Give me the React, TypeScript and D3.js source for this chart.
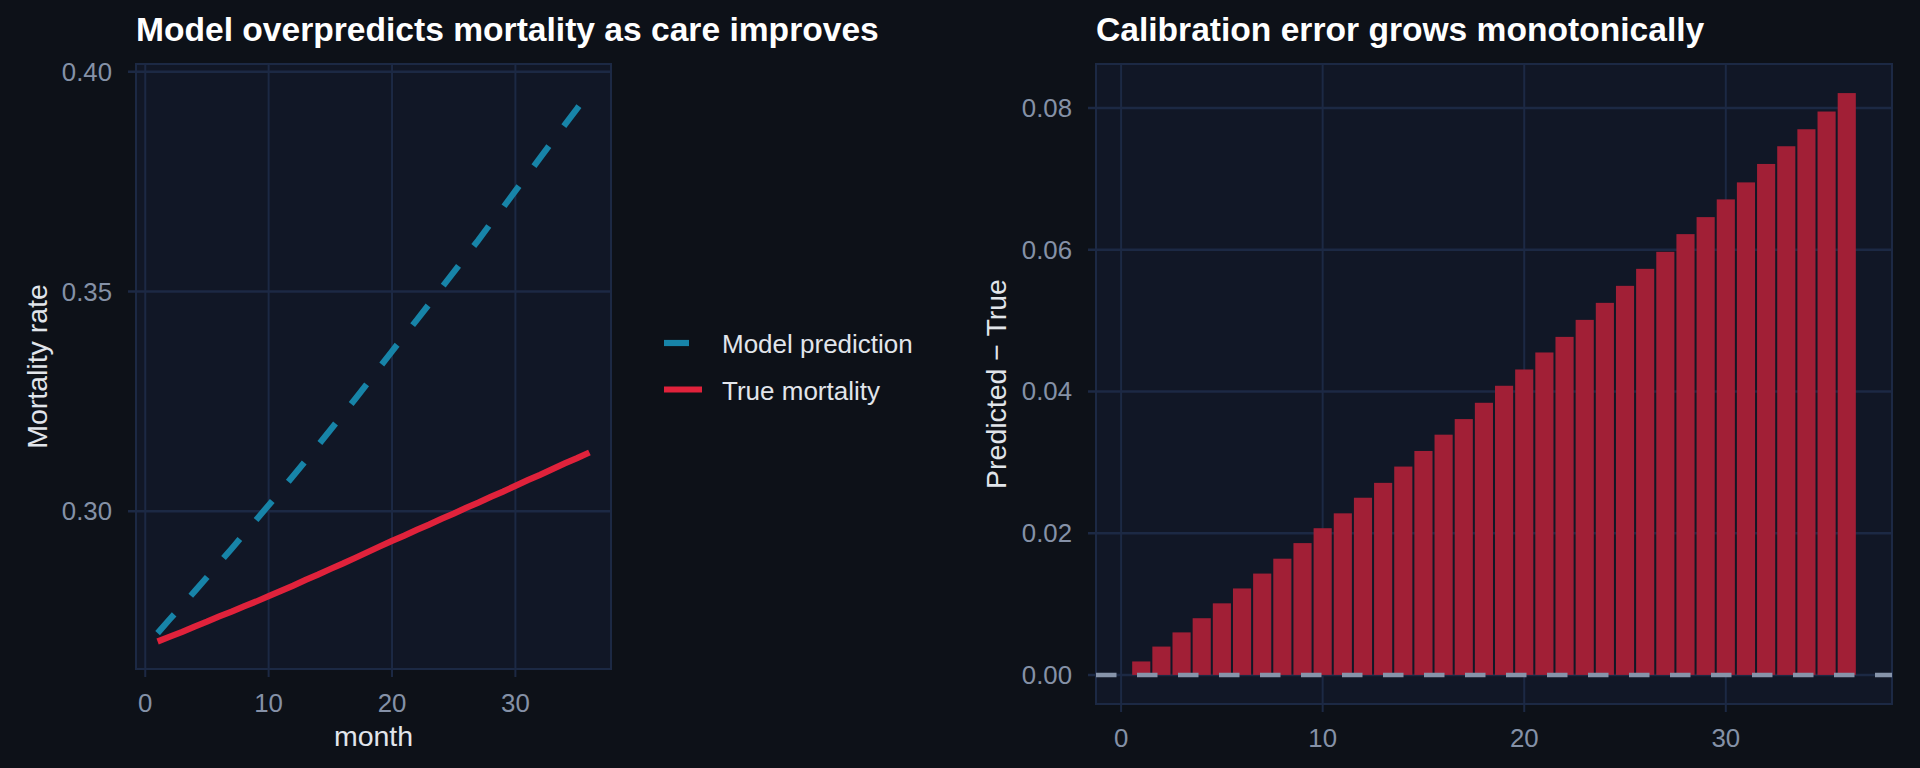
import React from 'react';
import * as d3 from 'd3';

// month index 1..36
const months: number[] = Array.from({ length: 36 }, (_, i) => i + 1);

// true mortality rate per month
const trueMortality: number[] = [
  0.2704, 0.2715, 0.2726, 0.2738, 0.2749, 0.2761, 0.2772, 0.2784, 0.2795, 0.2807,
  0.2819, 0.2831, 0.2844, 0.2856, 0.2869, 0.2881, 0.2894, 0.2907, 0.2920, 0.2933,
  0.2945, 0.2958, 0.2970, 0.2983, 0.2995, 0.3008, 0.3020, 0.3033, 0.3045, 0.3058,
  0.3071, 0.3083, 0.3096, 0.3109, 0.3121, 0.3134,
];

// predicted - true
const calibrationError: number[] = [
  0.0019, 0.0040, 0.0060, 0.0080, 0.0101, 0.0122, 0.0143, 0.0164, 0.0186, 0.0207,
  0.0228, 0.0250, 0.0271, 0.0294, 0.0316, 0.0339, 0.0361, 0.0384, 0.0408, 0.0431,
  0.0455, 0.0477, 0.0501, 0.0525, 0.0549, 0.0573, 0.0597, 0.0622, 0.0646, 0.0671,
  0.0695, 0.0721, 0.0746, 0.0770, 0.0795, 0.0821,
];

const modelPrediction: number[] = trueMortality.map((v, i) => v + calibrationError[i]);

const seriesNames = ['Model prediction', 'True mortality'];
const monthTicks = [0, 10, 20, 30];
const rateTicks = [0.3, 0.35, 0.4];
const errorTicks = [0, 0.02, 0.04, 0.06, 0.08];

const W = 1920;
const H = 768;
const FONT = "'Liberation Sans', Arial, Helvetica, sans-serif";

const BG = '#0d1118';
const PANEL = '#111726';
const GRID = '#1c2944';
const TICK_TXT = '#8591a7';
const AXIS_TXT = '#e1e5eb';
const BLUE = '#1784a8';
const RED = '#e0223b';
const BAR = '#a11f36';
const ZERO = '#8794aa';

const TITLE_SIZE = 33.6;
const AXIS_TITLE_SIZE = 28.5;
const TICK_SIZE = 25.8;
const LEGEND_SIZE = 26;

// expand like ggplot: 5% each side
const expand = (lo: number, hi: number): [number, number] => {
  const p = (hi - lo) * 0.05;
  return [lo - p, hi + p];
};

const App: React.FC = () => {
  // ---- left panel
  const L = { left: 136, right: 611, top: 64, bottom: 669 };
  const xL = d3.scaleLinear().domain(expand(1, 36)).range([L.left, L.right]);
  const allRates = [...trueMortality, ...modelPrediction];
  const yL = d3
    .scaleLinear()
    .domain(expand(d3.min(allRates) || 0, d3.max(allRates) || 1))
    .range([L.bottom, L.top]);

  const line = d3
    .line<number>()
    .x((_, i) => xL(months[i]))
    .y((d) => yL(d));

  // ---- right panel
  const R = { left: 1096, right: 1892, top: 64, bottom: 704 };
  const barW = 0.9;
  const xR = d3
    .scaleLinear()
    .domain(expand(1 - barW / 2, 36 + barW / 2))
    .range([R.left, R.right]);
  const yR = d3
    .scaleLinear()
    .domain(expand(0, d3.max(calibrationError) || 1))
    .range([R.bottom, R.top]);

  const tickLen = 8;

  return (
    <div style={{ position: 'fixed', left: 0, top: 0, width: W, height: H }}>
      <svg width={W} height={H} style={{ display: 'block', fontFamily: FONT }}>
        <rect x={0} y={0} width={W} height={H} fill={BG} />

        {/* ========== LEFT: lines ========== */}
        <text x={L.left} y={40.5} fill="#ffffff" fontSize={TITLE_SIZE} fontWeight="bold">
          Model overpredicts mortality as care improves
        </text>
        <rect x={L.left} y={L.top} width={L.right - L.left} height={L.bottom - L.top} fill={PANEL} stroke={GRID} strokeWidth={2} />
        {monthTicks.map((t) => (
          <g key={'lx' + t}>
            <line x1={xL(t)} x2={xL(t)} y1={L.top} y2={L.bottom + tickLen} stroke={GRID} strokeWidth={2} />
            <text x={xL(t)} y={712} fill={TICK_TXT} fontSize={TICK_SIZE} textAnchor="middle">{t}</text>
          </g>
        ))}
        {rateTicks.map((t) => (
          <g key={'ly' + t}>
            <line x1={L.left - tickLen} x2={L.right} y1={yL(t)} y2={yL(t)} stroke={GRID} strokeWidth={2.5} />
            <text x={112} y={yL(t)} fill={TICK_TXT} fontSize={TICK_SIZE} textAnchor="end" dominantBaseline="central">
              {d3.format('.2f')(t)}
            </text>
          </g>
        ))}
        <path d={line(modelPrediction) || ''} fill="none" stroke={BLUE} strokeWidth={6.2} strokeDasharray="25 25" />
        <path d={line(trueMortality) || ''} fill="none" stroke={RED} strokeWidth={6.2} />

        <text x={(L.left + L.right) / 2} y={746} fill={AXIS_TXT} fontSize={AXIS_TITLE_SIZE} textAnchor="middle">month</text>
        <text
          transform={`translate(46.7, ${(L.top + L.bottom) / 2}) rotate(-90)`}
          fill={AXIS_TXT}
          fontSize={AXIS_TITLE_SIZE}
          textAnchor="middle"
        >
          Mortality rate
        </text>

        {/* legend */}
        {seriesNames.map((name, i) => {
          const cy = 343 + i * 46.5;
          return (
            <g key={name}>
              <line
                x1={664}
                x2={702}
                y1={cy}
                y2={cy}
                stroke={i === 0 ? BLUE : RED}
                strokeWidth={6.2}
                strokeDasharray={i === 0 ? '25 25' : undefined}
              />
              <text x={722} y={cy + 1} fill={AXIS_TXT} fontSize={LEGEND_SIZE} dominantBaseline="central">{name}</text>
            </g>
          );
        })}

        {/* ========== RIGHT: bars ========== */}
        <text x={R.left} y={40.5} fill="#ffffff" fontSize={TITLE_SIZE} fontWeight="bold">
          Calibration error grows monotonically
        </text>
        <rect x={R.left} y={R.top} width={R.right - R.left} height={R.bottom - R.top} fill={PANEL} stroke={GRID} strokeWidth={2} />
        {monthTicks.map((t) => (
          <g key={'rx' + t}>
            <line x1={xR(t)} x2={xR(t)} y1={R.top} y2={R.bottom + tickLen} stroke={GRID} strokeWidth={2} />
            <text x={xR(t)} y={747} fill={TICK_TXT} fontSize={TICK_SIZE} textAnchor="middle">{t}</text>
          </g>
        ))}
        {errorTicks.map((t) => (
          <g key={'ry' + t}>
            <line x1={R.left - tickLen} x2={R.right} y1={yR(t)} y2={yR(t)} stroke={GRID} strokeWidth={2.5} />
            <text x={1072} y={yR(t)} fill={TICK_TXT} fontSize={TICK_SIZE} textAnchor="end" dominantBaseline="central">
              {d3.format('.2f')(t)}
            </text>
          </g>
        ))}
        {calibrationError.map((v, i) => (
          <rect
            key={'bar' + i}
            x={xR(months[i] - barW / 2)}
            width={xR(months[i] + barW / 2) - xR(months[i] - barW / 2)}
            y={yR(v)}
            height={yR(0) - yR(v)}
            fill={BAR}
          />
        ))}
        <line x1={R.left} x2={R.right} y1={yR(0)} y2={yR(0)} stroke={ZERO} strokeWidth={4.5} strokeDasharray="20.5 20.5" />

        <text
          transform={`translate(1006, ${(R.top + R.bottom) / 2}) rotate(-90)`}
          fill={AXIS_TXT}
          fontSize={AXIS_TITLE_SIZE}
          textAnchor="middle"
        >
          Predicted − True
        </text>
      </svg>
    </div>
  );
};

export default App;
